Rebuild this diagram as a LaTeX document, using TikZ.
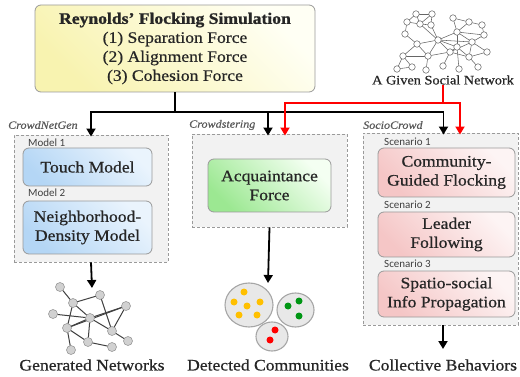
\documentclass[tikz,border=0pt]{standalone}
\usepackage{fontspec}
\setmainfont[FakeStretch=1.1, FakeBold=0.6, BoldFeatures={FakeBold=1.2}]{Liberation Serif}
\newfontfamily\calib{Carlito}
\usetikzlibrary{arrows.meta,shapes.geometric}
\definecolor{yA}{HTML}{F8F3B0}
\definecolor{yB}{HTML}{FFFFF4}
\definecolor{bA}{HTML}{B4D6F5}
\definecolor{bB}{HTML}{EAF4FD}
\definecolor{gA}{HTML}{9CE892}
\definecolor{gB}{HTML}{F4FFF2}
\definecolor{rA}{HTML}{F5C6C6}
\definecolor{rB}{HTML}{FDF4F4}
\definecolor{dfill}{HTML}{F2F2F2}
\definecolor{ddraw}{HTML}{9A9A9A}
\definecolor{txt}{HTML}{262626}
\definecolor{netred}{HTML}{FF0000}
\begin{document}
\begin{tikzpicture}[x=1pt,y=-1pt,
  every node/.style={inner sep=0pt, text=txt},
  gbox/.style={draw=ddraw, line width=0.8pt, rounded corners=6pt, align=center, font=\fontsize{16}{19}\selectfont},
  ybox/.style={gbox, top color=yA, bottom color=yB, shading angle=135},
  bbox/.style={gbox, top color=bA, bottom color=bB, shading angle=135},
  grbox/.style={gbox, top color=gA, bottom color=gB, shading angle=135},
  rbox/.style={gbox, top color=rA, bottom color=rB, shading angle=135},
  outer/.style={draw=ddraw, dash pattern=on 3pt off 2pt, line width=0.9pt, fill=dfill},
  tag/.style={font=\calib\fontsize{11}{12}\selectfont, text=black!75, anchor=west},
  grp/.style={font=\itshape\fontsize{11}{12}\selectfont, text=black!65, anchor=west},
  lbl/.style={font=\fontsize{16}{19}\selectfont},
  arr/.style={line width=1.8pt, -{Triangle[width=9pt,length=8pt]}},
  redarr/.style={line width=1.8pt, draw=netred, -{Triangle[width=9pt,length=8pt]}, color=netred},
  gnode/.style={circle, fill=black!18, draw=black!40, line width=0.6pt, minimum size=9pt},
  gedge/.style={draw=black!75, line width=1pt},
  snode/.style={circle, fill=white, draw=black!55, line width=0.6pt, minimum size=6.5pt},
  sedge/.style={draw=black!60, line width=0.55pt},
  comm/.style={ellipse, fill=black!9, draw=black!35, line width=1.1pt},
  dot/.style={circle, minimum size=7pt}
]
\useasboundingbox (0,0) rectangle (520,377);

% top box
\node[ybox, minimum width=280pt, minimum height=87pt] (top) at (175,48.5)
  {{\bfseries Reynolds' Flocking Simulation}\\(1) Separation Force\\(2) Alignment Force\\(3) Cohesion Force};

% social network
\foreach \a/\b/\c/\d in {416/14/432/14,416/14/407/22,416/14/420/24,432/14/420/24,432/14/431/25,407/22/420/24,420/24/431/25,407/22/405/34,420/24/438/40,431/25/438/40,405/34/417/44,417/44/438/40,438/40/457/32,457/32/453/18,457/32/469/22,453/18/469/22,469/22/482/25,482/25/484/35,457/32/484/35,457/32/472/42,457/32/457/47,438/40/457/47,438/40/450/52,472/42/484/35,472/42/487/52,472/42/469/57,457/47/450/52,457/47/469/57,417/44/403/56,417/44/428/56,403/56/428/56,428/56/450/52,428/56/438/40,450/52/469/57,469/57/487/52,403/56/412/67,412/67/397/69,428/56/426/70,450/52/443/66,469/57/478/67,457/47/459/69,438/40/472/42,450/52/472/42,403/56/397/69}
  \draw[sedge] (\a,\b) -- (\c,\d);
\foreach \n/\x/\y in {s1/416/14,s2/432/14,s3/407/22,s4/420/24,s5/431/25,s6/453/18,s7/469/22,s8/482/25,s9/457/32,s10/484/35,s11/405/34,s12/438/40,s13/472/42,s14/417/44,s15/457/47,s16/487/52,s17/403/56,s18/428/56,s19/450/52,s20/469/57,s21/397/69,s22/412/67,s23/426/70,s24/443/66,s25/459/69,s26/478/67}
  \node[snode] (\n) at (\x,\y) {};
\node[font=\fontsize{13}{15}\selectfont] (sn) at (443,80) {A Given Social Network};

% outer dashed boxes
\node[outer, minimum width=154pt, minimum height=127pt] (b1) at (91,198.5) {};
\node[outer, minimum width=155pt, minimum height=93pt] (b2) at (269.5,180.5) {};
\node[outer, minimum width=155pt, minimum height=192pt] (b3) at (440.5,229) {};

\node[grp] (g1) at (8,125) {CrowdNetGen};
\node[grp] (g2) at (189,125) {Crowdstering};
\node[grp] (g3) at (363,125) {SocioCrowd};

% inner boxes
\node[tag] (m1) at (28,143) {Model 1};
\node[bbox, minimum width=129pt, minimum height=38pt] (touch) at (87.5,167) {Touch Model};
\node[tag] (m2) at (28,193) {Model 2};
\node[bbox, minimum width=129pt, minimum height=53pt] (neigh) at (87.5,227.5) {Neighborhood-\\Density Model};

\node[grbox, minimum width=123pt, minimum height=53pt] (acq) at (269.5,185.5) {Acquaintance\\Force};

\node[tag] (sc1) at (384,142) {Scenario 1};
\node[rbox, minimum width=137pt, minimum height=49pt] (cgf) at (446.5,172.5) {Community-\\Guided Flocking};
\node[tag] (sc2) at (384,205) {Scenario 2};
\node[rbox, minimum width=137pt, minimum height=45pt] (lf) at (446.5,234.5) {Leader\\Following};
\node[tag] (sc3) at (384,264) {Scenario 3};
\node[rbox, minimum width=137pt, minimum height=46pt] (ssip) at (446.5,294) {Spatio-social\\Info Propagation};

% black connectors from top box
\coordinate (j) at (175,112);
\draw[line width=1.8pt] (top.south) -- (j);
\draw[arr] (j) -| ([yshift=-2pt]b1.north);
\draw[arr] (j) -| ([xshift=-1.5pt,yshift=-2pt]b2.north);
\draw[arr] (j) -| ([xshift=3pt,yshift=-2pt]b3.north);

% red connectors from social network
\coordinate (rj) at (443,103);
\draw[line width=1.8pt, draw=netred] (sn.south) -- (rj);
\draw[redarr] (rj) -| ([xshift=15.5pt,yshift=-2pt]b2.north);
\draw[redarr] (rj) -| ([xshift=19.5pt,yshift=-2pt]b3.north);

% generated network
\foreach \n/\x/\y in {n1/60/287,n2/100/295,n3/73/303,n4/126/306,n5/53/314,n6/90/318,n7/67/328,n8/112/331,n9/88/342,n10/128/341,n11/71/350,n12/112/347}
  \coordinate (\n) at (\x,\y);
\foreach \a/\b in {n1/n3,n3/n2,n2/n8,n3/n6,n3/n7,n5/n6,n6/n4,n4/n8,n6/n8,n7/n6,n7/n4,n6/n9,n7/n9,n7/n11,n9/n12,n8/n10}
  \draw[gedge] (\a) -- (\b);
\foreach \n in {n1,n2,n3,n4,n5,n6,n7,n8,n9,n10,n11,n12}
  \node[gnode] at (\n) {};
\coordinate (gtop) at (92,288);
\draw[arr] (b1.south) -- (gtop);

% detected communities
\node[comm, minimum width=48pt, minimum height=44pt] (cy) at (249,305) {};
\node[comm, minimum width=37pt, minimum height=34pt] (cg) at (295.5,310) {};
\node[comm, minimum width=32pt, minimum height=29pt] (cr) at (272,336.5) {};
\foreach \x/\y in {244/292,234/302,247/306,260/302,239/315,257/315}
  \node[dot, fill={rgb,255:red,255;green,192;blue,0}] at (\x,\y) {};
\foreach \x/\y in {288/306,299/301,299/316}
  \node[dot, fill={rgb,255:red,0;green,150;blue,20}] at (\x,\y) {};
\foreach \x/\y in {275/330,270/340}
  \node[dot, fill=netred] at (\x,\y) {};
\coordinate (ctop) at (268,283);
\draw[arr] (b2.south) -- (ctop);

% collective behaviors
\coordinate (btop) at (443,349);
\draw[arr] ([xshift=2.5pt]b3.south) -- (btop);

% bottom labels
\node[lbl] (l1) at (92,365) {Generated Networks};
\node[lbl] (l2) at (268,365) {Detected Communities};
\node[lbl] (l3) at (443,365) {Collective Behaviors};
\end{tikzpicture}
\end{document}
